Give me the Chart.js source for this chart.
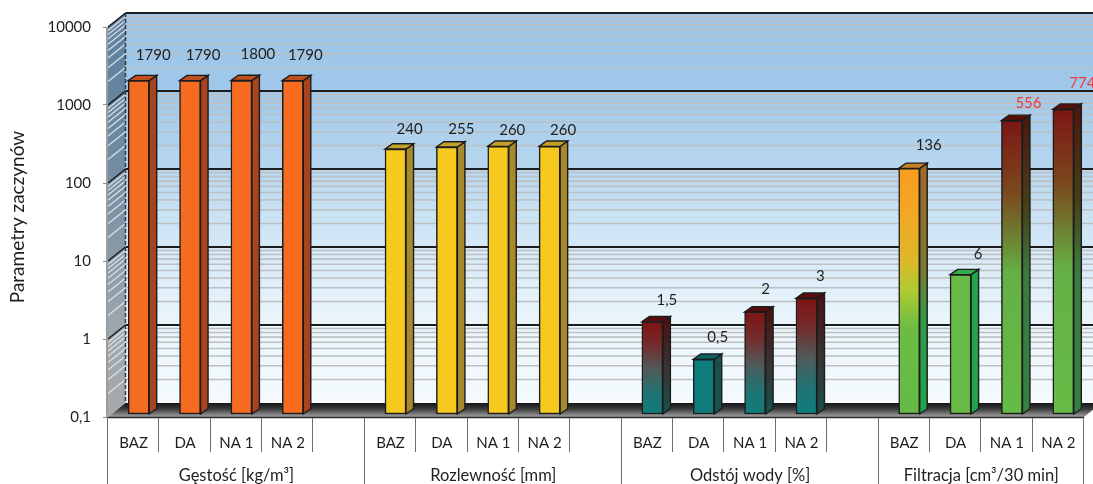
<!DOCTYPE html>
<html lang="pl">
<head>
<meta charset="utf-8">
<title>Parametry zaczynów</title>
<script src="https://cdn.jsdelivr.net/npm/chart.js@4/dist/chart.umd.min.js"></script>
<style>
    html, body { margin: 0; padding: 0; background: #fff; overflow: hidden; }
    canvas { display: block; }
</style>
</head>
<body>
<canvas id="slurryChart" width="1093" height="484"></canvas>
<script>
const categories = ['BAZ', 'DA', 'NA 1', 'NA 2', '', 'BAZ', 'DA', 'NA 1', 'NA 2', '', 'BAZ', 'DA', 'NA 1', 'NA 2', '', 'BAZ', 'DA', 'NA 1', 'NA 2'];
const values = [1790, 1790, 1800, 1790, null, 240, 255, 260, 260, null, 1.5, 0.5, 2, 3, null, 136, 6, 556, 774];
const groupNames = ['Gęstość [kg/m³]', 'Rozlewność [mm]', 'Odstój wody [%]', 'Filtracja [cm³/30 min]'];
const groupStarts = [0, 5, 10, 15, 19];
const yTicks = [0.1, 1, 10, 100, 1000, 10000];
const minorSteps = [2, 3, 4, 5, 6, 7, 8, 9];
const yTitle = 'Parametry zaczynów';

// hand placed data labels, relative to the top of each bar
const labelDx = [14.5, 13, 16.5, 12.5, 0, 14, 14.5, 14, 13.5, 0, 14.5, 14, 10.5, 14, 0, 19.5, 17.5, 16.5, 19];
const labelDy = [-26, -26, -26, -26, 0, -20, -18, -16.5, -16.5, 0, -22, -22, -23, -22, 0, -23, -20, -17, -26];
const redLabels = [556, 774];

// face gradient, side gradient and top colour of each kind of bar
const ORANGE = { face: [[0, '#f56b20'], [1, '#f56b20']], side: [[0, '#a5441f'], [1, '#a5441f']], top: '#c1501f' };
const YELLOW = { face: [[0, '#f6c91e'], [1, '#f6c91e']], side: [[0, '#a88a2a'], [1, '#a88a2a']], top: '#c5a029' };
const TEAL = { face: [[0, '#0e7d7c'], [1, '#0e7d7c']], side: [[0, '#17504f'], [1, '#17504f']], top: '#0c6361' };
const GREEN = { face: [[0, '#68bc45'], [1, '#68bc45']], side: [[0, '#1fa64d'], [1, '#1fa64d']], top: '#2fae4a' };
const RED_TEAL = {
    face: [[0, '#7e1414'], [0.24, '#752a2a'], [0.52, '#4f5a5a'], [0.78, '#1f7474'], [1, '#0e7d7c']],
    side: [[0, '#4a1212'], [0.5, '#3a3333'], [1, '#17504f']],
    top: '#5a0c0c'
};
const AMBER_GREEN = {
    face: [[0, '#fb9c1e'], [0.2, '#f2a824'], [0.38, '#dcb82a'], [0.5, '#aecb30'], [0.65, '#6cbc44'], [1, '#64ba46']],
    side: [[0, '#a0692a'], [0.4, '#7f7a30'], [0.62, '#2f9a48'], [1, '#20a44b']],
    top: '#c78022'
};
const RED_GREEN = {
    face: [[0, '#7d1614'], [0.25, '#7a4a1e'], [0.4, '#6e8232'], [0.52, '#65b045'], [1, '#66bc46']],
    side: [[0, '#4a1a10'], [0.3, '#46401a'], [0.52, '#3c7a40'], [1, '#358043']],
    top: '#5a0f0c'
};
const barStyles = [ORANGE, ORANGE, ORANGE, ORANGE, null, YELLOW, YELLOW, YELLOW, YELLOW, null,
    RED_TEAL, TEAL, RED_TEAL, RED_TEAL, null, AMBER_GREEN, GREEN, RED_GREEN, RED_GREEN];

const DEPTH_X = 17.5;      // back wall offset
const DEPTH_Y = 14;
const BAR_SHIFT = 5;       // bars sit slightly right of the slot centre
const BAR_DX = 7.5;        // bar side and top depth
const BAR_DY = 5.3;
const EDGE = '#1c1c1c';
const TEXT = '#1f1f1f';

Chart.defaults.font.family = 'Lato, "Noto Sans", sans-serif';
Chart.defaults.font.size = 15;
Chart.defaults.color = TEXT;

function fillFor(c, stops, top, bottom) {
    const g = c.createLinearGradient(0, top, 0, bottom);
    stops.forEach(s => g.addColorStop(s[0], s[1]));
    return g;
}

function drawLine(c, x1, y1, x2, y2, color, width) {
    c.strokeStyle = color;
    c.lineWidth = width;
    c.beginPath();
    c.moveTo(x1, y1);
    c.lineTo(x2, y2);
    c.stroke();
}

function drawWalls(chart) {
    const c = chart.ctx;
    const y = chart.scales.y;
    const { left, right, top, bottom } = chart.chartArea;
    const backTop = top - DEPTH_Y;
    const backBottom = bottom - DEPTH_Y;
    const backLeft = left + DEPTH_X;
    const backRight = right + DEPTH_X;

    // back wall
    c.fillStyle = fillFor(c, [[0, '#9cc4e8'], [0.2, '#a0c8ea'], [0.4, '#b8d7ef'], [0.6, '#d6e9f7'], [0.8, '#ebf5fb'], [1, '#f4fafe']], backTop, backBottom);
    c.fillRect(backLeft, backTop, backRight - backLeft, backBottom - backTop);

    // side wall
    c.fillStyle = fillFor(c, [[0, '#5f82a5'], [0.25, '#66869f'], [0.5, '#7f93a6'], [0.8, '#9fa8ae'], [1, '#a6aaad']], backTop, bottom);
    c.beginPath();
    c.moveTo(left, top);
    c.lineTo(backLeft, backTop);
    c.lineTo(backLeft, backBottom);
    c.lineTo(left, bottom);
    c.closePath();
    c.fill();

    // minor then major grid lines, back wall and side wall
    yTicks.slice(0, -1).forEach(decade => {
        minorSteps.forEach(step => {
            const py = y.getPixelForValue(decade * step);
            drawLine(c, backLeft, py - DEPTH_Y, backRight, py - DEPTH_Y, '#bdc0c2', 1.6);
            drawLine(c, left, py, backLeft, py - DEPTH_Y, '#dde1e4', 1.2);
        });
    });
    yTicks.slice(1).forEach(value => {
        const py = y.getPixelForValue(value);
        drawLine(c, backLeft, py - DEPTH_Y, backRight, py - DEPTH_Y, EDGE, 1.8);
        drawLine(c, left, py, backLeft, py - DEPTH_Y, EDGE, 1.6);
    });

    c.save();
    c.setLineDash([4, 2]);
    drawLine(c, backLeft, backTop, backLeft, backBottom, '#2f3d4a', 1.5);
    c.restore();

    // floor
    c.fillStyle = fillFor(c, [[0, '#141414'], [0.45, '#3f3f3f'], [1, '#a3a3a3']], backBottom, bottom);
    c.beginPath();
    c.moveTo(left, bottom);
    c.lineTo(backLeft, backBottom);
    c.lineTo(backRight, backBottom);
    c.lineTo(right, bottom);
    c.closePath();
    c.fill();
    drawLine(c, left, bottom + 0.5, right, bottom + 0.5, '#2a2a2a', 1.4);
}

// side and top faces of every bar, the front face comes from the bar element itself
function drawBarFaces(chart) {
    const c = chart.ctx;
    chart.getDatasetMeta(0).data.forEach((bar, i) => {
        if (values[i] === null) return;
        const r = bar.x + bar.width / 2;
        const l = bar.x - bar.width / 2;
        const style = barStyles[i];

        c.beginPath();
        c.moveTo(r, bar.y);
        c.lineTo(r + BAR_DX, bar.y - BAR_DY);
        c.lineTo(r + BAR_DX, bar.base - BAR_DY);
        c.lineTo(r, bar.base);
        c.closePath();
        c.fillStyle = fillFor(c, style.side, bar.y, bar.base);
        c.fill();
        c.strokeStyle = EDGE;
        c.lineWidth = 1.4;
        c.stroke();

        c.beginPath();
        c.moveTo(l, bar.y);
        c.lineTo(l + BAR_DX, bar.y - BAR_DY);
        c.lineTo(r + BAR_DX, bar.y - BAR_DY);
        c.lineTo(r, bar.y);
        c.closePath();
        c.fillStyle = style.top;
        c.fill();
        c.stroke();
    });
}

const solidScene = {
    id: 'solidScene',
    beforeDatasetsDraw(chart) {
        drawWalls(chart);
        chart.ctx.save();
        chart.ctx.translate(BAR_SHIFT, 0);
        drawBarFaces(chart);
    },
    afterDatasetsDraw(chart) {
        const c = chart.ctx;
        c.restore();

        c.textAlign = 'center';
        c.textBaseline = 'middle';
        c.font = Chart.defaults.font.size + 'px ' + Chart.defaults.font.family;
        chart.getDatasetMeta(0).data.forEach((bar, i) => {
            if (values[i] === null) return;
            c.fillStyle = redLabels.includes(values[i]) ? '#ee3a3a' : TEXT;
            c.fillText(String(values[i]).replace('.', ','), bar.x + BAR_SHIFT + labelDx[i], bar.y + labelDy[i]);
        });
    },
    afterDraw(chart) {
        // two level category axis: slot dividers, group dividers and group names
        const c = chart.ctx;
        const x = chart.scales.x;
        const { left, right, top, bottom } = chart.chartArea;
        const slot = (right - left) / categories.length;
        drawLine(c, left - 1, top, left - 1, bottom, '#9c9c9c', 2);
        categories.concat('').forEach((label, i) => {
            const px = Math.round(left + i * slot) - 0.5;
            const end = groupStarts.includes(i) ? chart.height : 452;
            drawLine(c, px, bottom + 1, px, end, '#6e6e6e', 1);
        });
        c.fillStyle = TEXT;
        c.textAlign = 'center';
        c.textBaseline = 'middle';
        c.font = '16.5px ' + Chart.defaults.font.family;
        groupNames.forEach((name, i) => {
            const first = x.getPixelForTick(groupStarts[i]) - slot / 2;
            const last = x.getPixelForTick(groupStarts[i + 1] - 1) + slot / 2;
            c.fillText(name, (first + last) / 2, 475.5);
        });

        // value axis title sits a little above the middle of the axis
        c.save();
        c.translate(18, 217);
        c.rotate(-Math.PI / 2);
        c.font = '19px ' + Chart.defaults.font.family;
        c.fillText(yTitle, 0, 0);
        c.restore();
    }
};

new Chart(document.getElementById('slurryChart'), {
    type: 'bar',
    data: {
        labels: categories,
        datasets: [{
            data: values,
            yAxisID: 'yBars',
            base: 0.1,
            barThickness: 21,
            borderWidth: 1.5,
            borderColor: EDGE,
            borderSkipped: false,
            backgroundColor: context => {
                const style = barStyles[context.dataIndex];
                if (!style) return 'transparent';
                const scale = context.chart.scales.yBars;
                const top = scale.getPixelForValue(values[context.dataIndex]);
                const bottom = scale.getPixelForValue(0.1);
                if (!Number.isFinite(top) || !Number.isFinite(bottom)) return 'transparent';
                return fillFor(context.chart.ctx, style.face, top, bottom);
            }
        }]
    },
    options: {
        responsive: false,
        animation: false,
        layout: { padding: { top: 27, right: 9 } },
        plugins: { legend: { display: false }, tooltip: { enabled: false } },
        scales: {
            x: {
                offset: true,
                grid: { display: false },
                border: { display: false },
                ticks: { autoSkip: false, maxRotation: 0, padding: 9 },
                afterFit: scale => { scale.height = 67; }
            },
            y: {
                type: 'logarithmic',
                min: 0.1,
                max: 10000,
                afterFit: scale => { scale.width = 108; },
                afterBuildTicks: scale => { scale.ticks = yTicks.map(value => ({ value, major: true })); },
                grid: { drawOnChartArea: false, tickLength: 5, color: '#8a8a8a' },
                border: { display: false },
                ticks: {
                    padding: 12,
                    callback: value => String(value).replace('.', ',')
                }
            },
            // bars stand on a plane just in front of the back wall
            yBars: {
                type: 'logarithmic',
                display: false,
                min: 0.0916,
                max: 8660
            }
        }
    },
    plugins: [solidScene]
});
</script>
</body>
</html>
